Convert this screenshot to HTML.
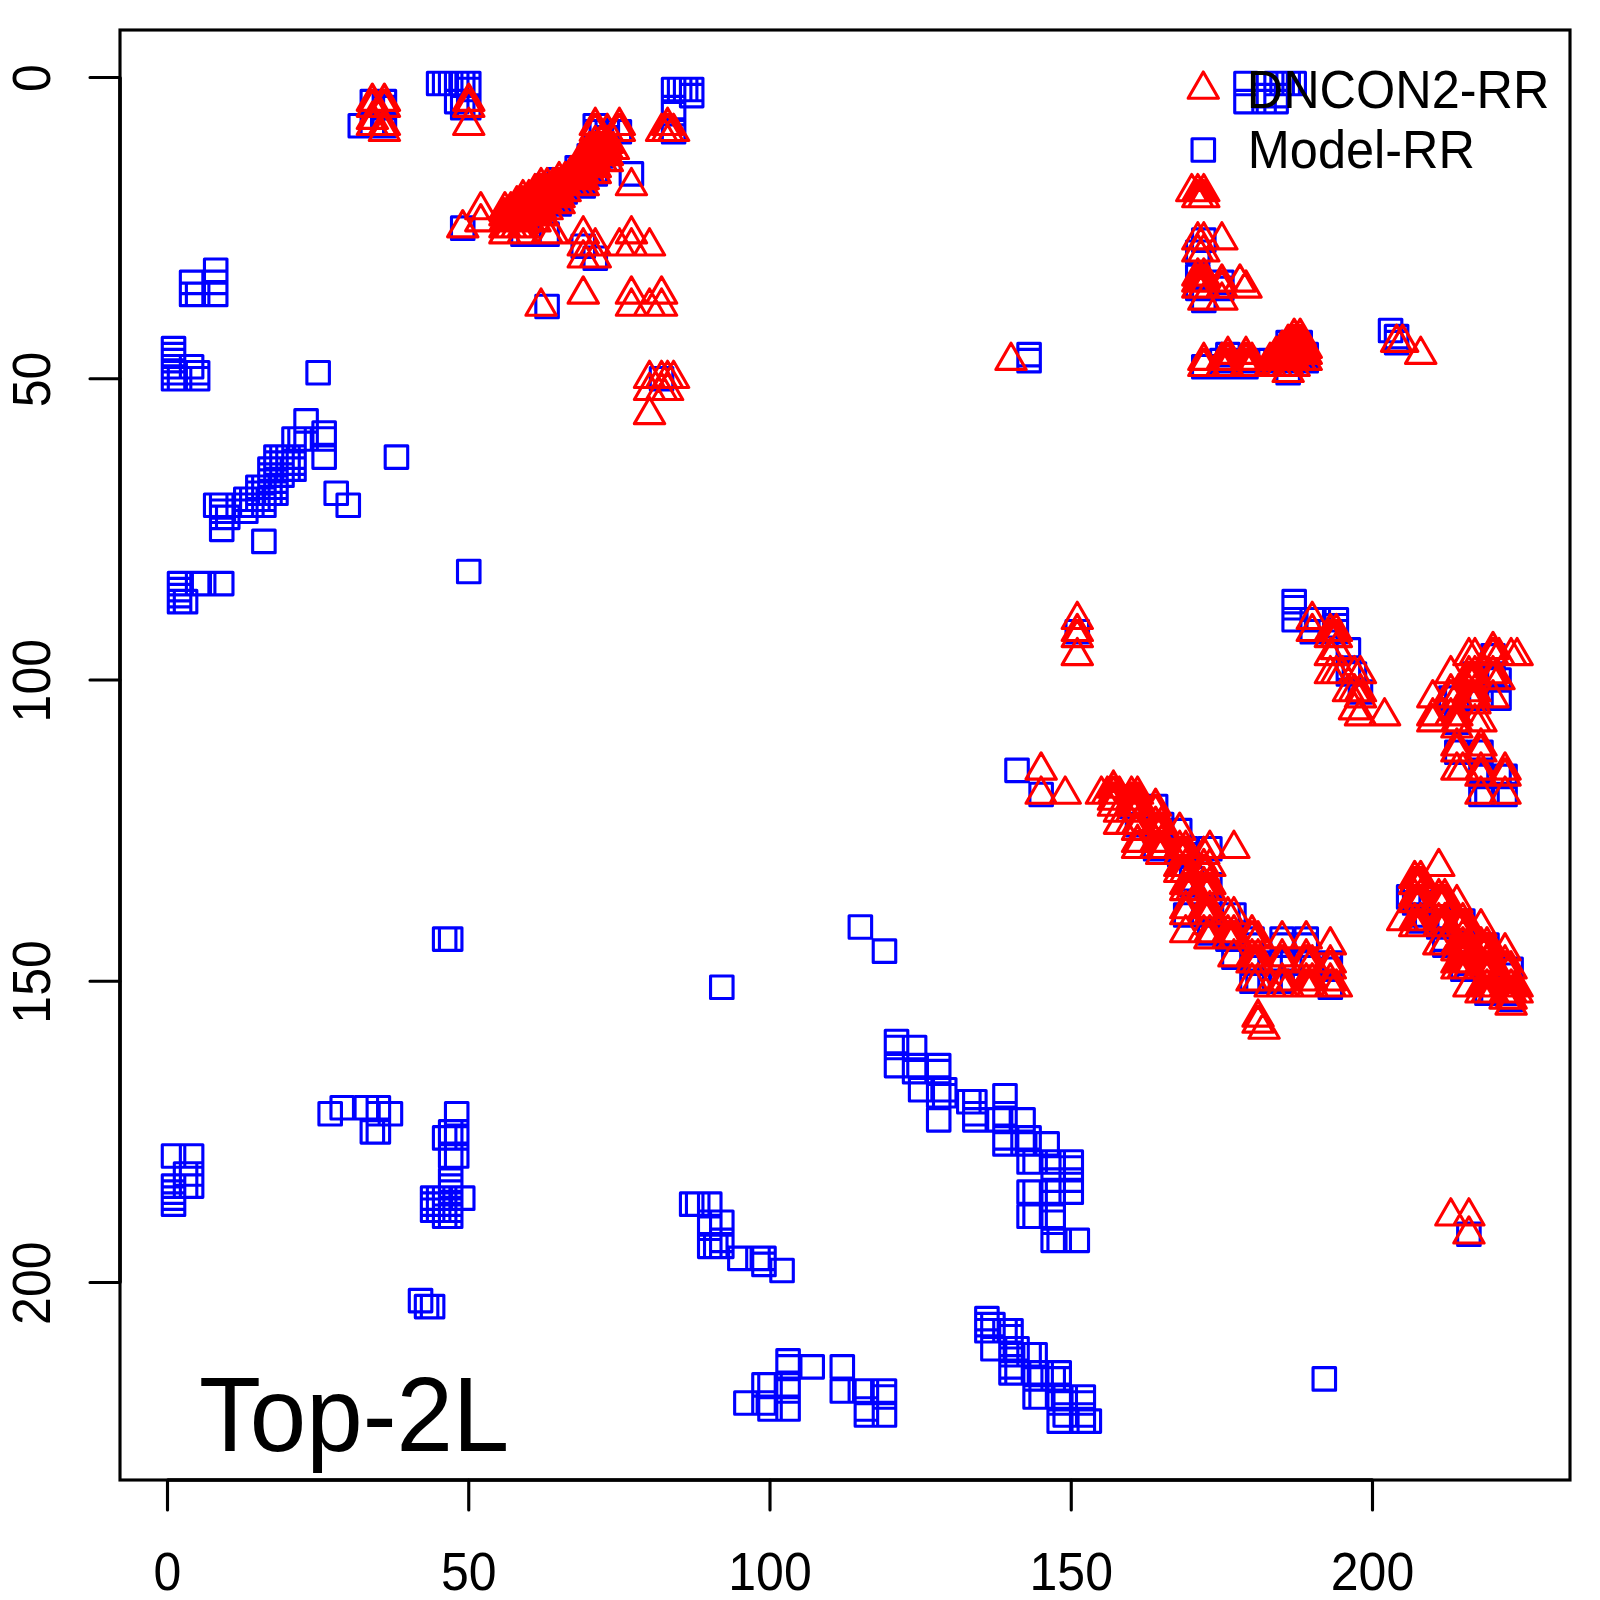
<!DOCTYPE html>
<html><head><meta charset="utf-8"><title>Top-2L</title>
<style>
html,body{margin:0;padding:0;background:#fff;}
svg{display:block}
text{font-family:"Liberation Sans",sans-serif;font-size:50px;fill:#000}
</style></head><body>
<svg width="1600" height="1600" viewBox="0 0 1600 1600">
<rect width="1600" height="1600" fill="#fff"/>
<path d="M162.28 337.38h22.5v22.5h-22.5zM162.28 343.4h22.5v22.5h-22.5zM162.28 349.43h22.5v22.5h-22.5zM162.28 355.45h22.5v22.5h-22.5zM162.28 361.48h22.5v22.5h-22.5zM162.28 367.5h22.5v22.5h-22.5zM162.28 1144.73h22.5v22.5h-22.5zM162.28 1174.85h22.5v22.5h-22.5zM162.28 1180.88h22.5v22.5h-22.5zM162.28 1186.9h22.5v22.5h-22.5zM162.28 1192.92h22.5v22.5h-22.5zM168.3 367.5h22.5v22.5h-22.5zM168.3 572.35h22.5v22.5h-22.5zM168.3 578.38h22.5v22.5h-22.5zM168.3 584.4h22.5v22.5h-22.5zM168.3 590.43h22.5v22.5h-22.5zM174.32 590.43h22.5v22.5h-22.5zM174.32 1162.8h22.5v22.5h-22.5zM174.32 1174.85h22.5v22.5h-22.5zM180.35 271.1h22.5v22.5h-22.5zM180.35 283.15h22.5v22.5h-22.5zM180.35 355.45h22.5v22.5h-22.5zM180.35 1144.73h22.5v22.5h-22.5zM180.35 1162.8h22.5v22.5h-22.5zM180.35 1174.85h22.5v22.5h-22.5zM186.38 283.15h22.5v22.5h-22.5zM186.38 361.48h22.5v22.5h-22.5zM186.38 367.5h22.5v22.5h-22.5zM186.38 572.35h22.5v22.5h-22.5zM192.4 572.35h22.5v22.5h-22.5zM204.45 259.05h22.5v22.5h-22.5zM204.45 271.1h22.5v22.5h-22.5zM204.45 283.15h22.5v22.5h-22.5zM204.45 494.03h22.5v22.5h-22.5zM210.47 494.03h22.5v22.5h-22.5zM210.47 500.05h22.5v22.5h-22.5zM210.47 506.08h22.5v22.5h-22.5zM210.47 518.12h22.5v22.5h-22.5zM210.47 572.35h22.5v22.5h-22.5zM216.5 506.08h22.5v22.5h-22.5zM234.57 488h22.5v22.5h-22.5zM234.57 494.03h22.5v22.5h-22.5zM234.57 500.05h22.5v22.5h-22.5zM240.6 488h22.5v22.5h-22.5zM240.6 494.03h22.5v22.5h-22.5zM246.62 475.95h22.5v22.5h-22.5zM246.62 481.98h22.5v22.5h-22.5zM246.62 488h22.5v22.5h-22.5zM252.65 475.95h22.5v22.5h-22.5zM252.65 481.98h22.5v22.5h-22.5zM252.65 488h22.5v22.5h-22.5zM252.65 494.03h22.5v22.5h-22.5zM252.65 530.17h22.5v22.5h-22.5zM258.68 457.88h22.5v22.5h-22.5zM258.68 463.9h22.5v22.5h-22.5zM258.68 469.93h22.5v22.5h-22.5zM258.68 475.95h22.5v22.5h-22.5zM258.68 481.98h22.5v22.5h-22.5zM264.7 445.83h22.5v22.5h-22.5zM264.7 451.85h22.5v22.5h-22.5zM264.7 457.88h22.5v22.5h-22.5zM264.7 463.9h22.5v22.5h-22.5zM264.7 469.93h22.5v22.5h-22.5zM264.7 475.95h22.5v22.5h-22.5zM264.7 481.98h22.5v22.5h-22.5zM270.73 445.83h22.5v22.5h-22.5zM270.73 451.85h22.5v22.5h-22.5zM270.73 457.88h22.5v22.5h-22.5zM270.73 463.9h22.5v22.5h-22.5zM276.75 445.83h22.5v22.5h-22.5zM276.75 451.85h22.5v22.5h-22.5zM276.75 457.88h22.5v22.5h-22.5zM282.77 427.75h22.5v22.5h-22.5zM282.77 445.83h22.5v22.5h-22.5zM282.77 451.85h22.5v22.5h-22.5zM282.77 457.88h22.5v22.5h-22.5zM288.8 427.75h22.5v22.5h-22.5zM294.83 409.68h22.5v22.5h-22.5zM294.83 427.75h22.5v22.5h-22.5zM306.88 361.48h22.5v22.5h-22.5zM312.9 421.73h22.5v22.5h-22.5zM312.9 427.75h22.5v22.5h-22.5zM312.9 445.83h22.5v22.5h-22.5zM318.93 1102.55h22.5v22.5h-22.5zM324.95 481.98h22.5v22.5h-22.5zM330.98 1096.53h22.5v22.5h-22.5zM337 494.03h22.5v22.5h-22.5zM349.05 114.45h22.5v22.5h-22.5zM355.08 1096.53h22.5v22.5h-22.5zM361.1 90.35h22.5v22.5h-22.5zM361.1 114.45h22.5v22.5h-22.5zM361.1 1120.62h22.5v22.5h-22.5zM367.12 1096.53h22.5v22.5h-22.5zM367.12 1102.55h22.5v22.5h-22.5zM367.12 1120.62h22.5v22.5h-22.5zM373.15 90.35h22.5v22.5h-22.5zM373.15 96.38h22.5v22.5h-22.5zM373.15 114.45h22.5v22.5h-22.5zM379.18 1102.55h22.5v22.5h-22.5zM385.2 445.83h22.5v22.5h-22.5zM409.3 1289.33h22.5v22.5h-22.5zM415.32 1295.35h22.5v22.5h-22.5zM421.35 1186.9h22.5v22.5h-22.5zM421.35 1192.92h22.5v22.5h-22.5zM421.35 1198.95h22.5v22.5h-22.5zM421.35 1295.35h22.5v22.5h-22.5zM427.38 72.28h22.5v22.5h-22.5zM427.38 1186.9h22.5v22.5h-22.5zM427.38 1192.92h22.5v22.5h-22.5zM427.38 1198.95h22.5v22.5h-22.5zM433.4 72.28h22.5v22.5h-22.5zM433.4 927.83h22.5v22.5h-22.5zM433.4 1126.65h22.5v22.5h-22.5zM433.4 1186.9h22.5v22.5h-22.5zM433.4 1192.92h22.5v22.5h-22.5zM433.4 1198.95h22.5v22.5h-22.5zM433.4 1204.98h22.5v22.5h-22.5zM439.43 72.28h22.5v22.5h-22.5zM439.43 927.83h22.5v22.5h-22.5zM439.43 1120.62h22.5v22.5h-22.5zM439.43 1126.65h22.5v22.5h-22.5zM439.43 1144.73h22.5v22.5h-22.5zM439.43 1168.83h22.5v22.5h-22.5zM439.43 1174.85h22.5v22.5h-22.5zM439.43 1180.88h22.5v22.5h-22.5zM439.43 1186.9h22.5v22.5h-22.5zM439.43 1192.92h22.5v22.5h-22.5zM439.43 1198.95h22.5v22.5h-22.5zM439.43 1204.98h22.5v22.5h-22.5zM445.45 72.28h22.5v22.5h-22.5zM445.45 90.35h22.5v22.5h-22.5zM445.45 1102.55h22.5v22.5h-22.5zM445.45 1120.62h22.5v22.5h-22.5zM445.45 1126.65h22.5v22.5h-22.5zM445.45 1144.73h22.5v22.5h-22.5zM451.48 72.28h22.5v22.5h-22.5zM451.48 96.38h22.5v22.5h-22.5zM451.48 216.88h22.5v22.5h-22.5zM451.48 1186.9h22.5v22.5h-22.5zM457.5 72.28h22.5v22.5h-22.5zM457.5 78.3h22.5v22.5h-22.5zM457.5 96.38h22.5v22.5h-22.5zM457.5 560.3h22.5v22.5h-22.5zM499.68 204.83h22.5v22.5h-22.5zM511.73 222.9h22.5v22.5h-22.5zM517.75 192.78h22.5v22.5h-22.5zM517.75 198.8h22.5v22.5h-22.5zM517.75 204.83h22.5v22.5h-22.5zM517.75 222.9h22.5v22.5h-22.5zM535.83 174.7h22.5v22.5h-22.5zM535.83 180.73h22.5v22.5h-22.5zM535.83 186.75h22.5v22.5h-22.5zM535.83 192.78h22.5v22.5h-22.5zM535.83 222.9h22.5v22.5h-22.5zM535.83 295.2h22.5v22.5h-22.5zM541.85 174.7h22.5v22.5h-22.5zM541.85 180.73h22.5v22.5h-22.5zM541.85 186.75h22.5v22.5h-22.5zM541.85 192.78h22.5v22.5h-22.5zM547.88 168.68h22.5v22.5h-22.5zM547.88 174.7h22.5v22.5h-22.5zM547.88 180.73h22.5v22.5h-22.5zM547.88 186.75h22.5v22.5h-22.5zM547.88 192.78h22.5v22.5h-22.5zM553.9 168.68h22.5v22.5h-22.5zM553.9 174.7h22.5v22.5h-22.5zM553.9 180.73h22.5v22.5h-22.5zM559.92 168.68h22.5v22.5h-22.5zM559.92 174.7h22.5v22.5h-22.5zM565.95 156.62h22.5v22.5h-22.5zM565.95 162.65h22.5v22.5h-22.5zM565.95 168.68h22.5v22.5h-22.5zM565.95 174.7h22.5v22.5h-22.5zM571.98 156.62h22.5v22.5h-22.5zM571.98 162.65h22.5v22.5h-22.5zM571.98 168.68h22.5v22.5h-22.5zM571.98 174.7h22.5v22.5h-22.5zM571.98 234.95h22.5v22.5h-22.5zM578 144.57h22.5v22.5h-22.5zM578 150.6h22.5v22.5h-22.5zM578 156.62h22.5v22.5h-22.5zM578 162.65h22.5v22.5h-22.5zM584.03 114.45h22.5v22.5h-22.5zM584.03 120.47h22.5v22.5h-22.5zM584.03 144.57h22.5v22.5h-22.5zM584.03 150.6h22.5v22.5h-22.5zM584.03 162.65h22.5v22.5h-22.5zM584.03 247h22.5v22.5h-22.5zM590.05 120.47h22.5v22.5h-22.5zM590.05 144.57h22.5v22.5h-22.5zM596.08 120.47h22.5v22.5h-22.5zM596.08 126.5h22.5v22.5h-22.5zM608.12 120.47h22.5v22.5h-22.5zM620.17 162.65h22.5v22.5h-22.5zM650.3 367.5h22.5v22.5h-22.5zM662.35 78.3h22.5v22.5h-22.5zM662.35 96.38h22.5v22.5h-22.5zM662.35 102.4h22.5v22.5h-22.5zM662.35 120.47h22.5v22.5h-22.5zM668.38 78.3h22.5v22.5h-22.5zM674.4 78.3h22.5v22.5h-22.5zM680.43 78.3h22.5v22.5h-22.5zM680.43 84.33h22.5v22.5h-22.5zM680.43 1192.92h22.5v22.5h-22.5zM686.45 1192.92h22.5v22.5h-22.5zM698.5 1192.92h22.5v22.5h-22.5zM698.5 1211h22.5v22.5h-22.5zM698.5 1217.03h22.5v22.5h-22.5zM698.5 1235.1h22.5v22.5h-22.5zM704.52 1235.1h22.5v22.5h-22.5zM710.55 976.03h22.5v22.5h-22.5zM710.55 1211h22.5v22.5h-22.5zM710.55 1229.08h22.5v22.5h-22.5zM710.55 1235.1h22.5v22.5h-22.5zM728.62 1247.15h22.5v22.5h-22.5zM734.65 1391.75h22.5v22.5h-22.5zM746.7 1247.15h22.5v22.5h-22.5zM752.73 1247.15h22.5v22.5h-22.5zM752.73 1253.18h22.5v22.5h-22.5zM752.73 1373.68h22.5v22.5h-22.5zM752.73 1391.75h22.5v22.5h-22.5zM758.75 1373.68h22.5v22.5h-22.5zM758.75 1397.78h22.5v22.5h-22.5zM770.8 1259.2h22.5v22.5h-22.5zM776.83 1349.58h22.5v22.5h-22.5zM776.83 1355.6h22.5v22.5h-22.5zM776.83 1373.68h22.5v22.5h-22.5zM776.83 1379.7h22.5v22.5h-22.5zM776.83 1397.78h22.5v22.5h-22.5zM800.93 1355.6h22.5v22.5h-22.5zM831.05 1355.6h22.5v22.5h-22.5zM831.05 1379.7h22.5v22.5h-22.5zM849.12 915.78h22.5v22.5h-22.5zM849.12 1379.7h22.5v22.5h-22.5zM855.15 1379.7h22.5v22.5h-22.5zM855.15 1397.78h22.5v22.5h-22.5zM855.15 1403.8h22.5v22.5h-22.5zM873.23 939.88h22.5v22.5h-22.5zM873.23 1379.7h22.5v22.5h-22.5zM873.23 1385.73h22.5v22.5h-22.5zM873.23 1403.8h22.5v22.5h-22.5zM885.28 1030.25h22.5v22.5h-22.5zM885.28 1036.28h22.5v22.5h-22.5zM885.28 1054.35h22.5v22.5h-22.5zM903.35 1036.28h22.5v22.5h-22.5zM903.35 1054.35h22.5v22.5h-22.5zM903.35 1060.38h22.5v22.5h-22.5zM909.38 1078.45h22.5v22.5h-22.5zM927.45 1054.35h22.5v22.5h-22.5zM927.45 1060.38h22.5v22.5h-22.5zM927.45 1078.45h22.5v22.5h-22.5zM927.45 1084.47h22.5v22.5h-22.5zM927.45 1108.58h22.5v22.5h-22.5zM933.48 1078.45h22.5v22.5h-22.5zM933.48 1084.47h22.5v22.5h-22.5zM957.58 1090.5h22.5v22.5h-22.5zM963.6 1090.5h22.5v22.5h-22.5zM963.6 1102.55h22.5v22.5h-22.5zM963.6 1108.58h22.5v22.5h-22.5zM975.65 1307.4h22.5v22.5h-22.5zM975.65 1313.43h22.5v22.5h-22.5zM975.65 1319.45h22.5v22.5h-22.5zM981.68 1313.43h22.5v22.5h-22.5zM981.68 1337.53h22.5v22.5h-22.5zM987.7 1108.58h22.5v22.5h-22.5zM993.73 1084.47h22.5v22.5h-22.5zM993.73 1102.55h22.5v22.5h-22.5zM993.73 1108.58h22.5v22.5h-22.5zM993.73 1126.65h22.5v22.5h-22.5zM993.73 1132.67h22.5v22.5h-22.5zM993.73 1319.45h22.5v22.5h-22.5zM999.75 1319.45h22.5v22.5h-22.5zM999.75 1325.48h22.5v22.5h-22.5zM999.75 1337.53h22.5v22.5h-22.5zM999.75 1343.55h22.5v22.5h-22.5zM999.75 1355.6h22.5v22.5h-22.5zM999.75 1361.62h22.5v22.5h-22.5zM1005.78 759.12h22.5v22.5h-22.5zM1005.78 1337.53h22.5v22.5h-22.5zM1005.78 1343.55h22.5v22.5h-22.5zM1005.78 1361.62h22.5v22.5h-22.5zM1011.8 1108.58h22.5v22.5h-22.5zM1011.8 1126.65h22.5v22.5h-22.5zM1011.8 1132.67h22.5v22.5h-22.5zM1017.83 343.4h22.5v22.5h-22.5zM1017.83 349.43h22.5v22.5h-22.5zM1017.83 1126.65h22.5v22.5h-22.5zM1017.83 1150.75h22.5v22.5h-22.5zM1017.83 1180.88h22.5v22.5h-22.5zM1017.83 1204.98h22.5v22.5h-22.5zM1017.83 1343.55h22.5v22.5h-22.5zM1023.85 1150.75h22.5v22.5h-22.5zM1023.85 1180.88h22.5v22.5h-22.5zM1023.85 1204.98h22.5v22.5h-22.5zM1023.85 1343.55h22.5v22.5h-22.5zM1023.85 1361.62h22.5v22.5h-22.5zM1023.85 1367.65h22.5v22.5h-22.5zM1023.85 1385.73h22.5v22.5h-22.5zM1029.88 783.23h22.5v22.5h-22.5zM1029.88 1361.62h22.5v22.5h-22.5zM1029.88 1367.65h22.5v22.5h-22.5zM1029.88 1385.73h22.5v22.5h-22.5zM1035.9 1132.67h22.5v22.5h-22.5zM1041.93 1150.75h22.5v22.5h-22.5zM1041.93 1156.78h22.5v22.5h-22.5zM1041.93 1168.83h22.5v22.5h-22.5zM1041.93 1180.88h22.5v22.5h-22.5zM1041.93 1204.98h22.5v22.5h-22.5zM1041.93 1211h22.5v22.5h-22.5zM1041.93 1229.08h22.5v22.5h-22.5zM1041.93 1367.65h22.5v22.5h-22.5zM1047.95 1229.08h22.5v22.5h-22.5zM1047.95 1361.62h22.5v22.5h-22.5zM1047.95 1367.65h22.5v22.5h-22.5zM1047.95 1385.73h22.5v22.5h-22.5zM1047.95 1391.75h22.5v22.5h-22.5zM1047.95 1409.83h22.5v22.5h-22.5zM1053.97 1385.73h22.5v22.5h-22.5zM1053.97 1403.8h22.5v22.5h-22.5zM1060 1150.75h22.5v22.5h-22.5zM1060 1156.78h22.5v22.5h-22.5zM1060 1168.83h22.5v22.5h-22.5zM1060 1180.88h22.5v22.5h-22.5zM1066.03 620.55h22.5v22.5h-22.5zM1066.03 1229.08h22.5v22.5h-22.5zM1072.05 1385.73h22.5v22.5h-22.5zM1072.05 1391.75h22.5v22.5h-22.5zM1072.05 1403.8h22.5v22.5h-22.5zM1072.05 1409.83h22.5v22.5h-22.5zM1078.08 1409.83h22.5v22.5h-22.5zM1120.25 795.28h22.5v22.5h-22.5zM1126.28 795.28h22.5v22.5h-22.5zM1126.28 813.35h22.5v22.5h-22.5zM1144.35 795.28h22.5v22.5h-22.5zM1144.35 813.35h22.5v22.5h-22.5zM1144.35 837.45h22.5v22.5h-22.5zM1150.38 813.35h22.5v22.5h-22.5zM1150.38 837.45h22.5v22.5h-22.5zM1168.45 819.38h22.5v22.5h-22.5zM1168.45 837.45h22.5v22.5h-22.5zM1168.45 843.48h22.5v22.5h-22.5zM1174.47 837.45h22.5v22.5h-22.5zM1174.47 843.48h22.5v22.5h-22.5zM1174.47 903.73h22.5v22.5h-22.5zM1180.5 867.58h22.5v22.5h-22.5zM1180.5 873.6h22.5v22.5h-22.5zM1186.53 240.98h22.5v22.5h-22.5zM1186.53 265.08h22.5v22.5h-22.5zM1186.53 277.12h22.5v22.5h-22.5zM1192.55 228.93h22.5v22.5h-22.5zM1192.55 277.12h22.5v22.5h-22.5zM1192.55 289.18h22.5v22.5h-22.5zM1192.55 355.45h22.5v22.5h-22.5zM1192.55 873.6h22.5v22.5h-22.5zM1192.55 903.73h22.5v22.5h-22.5zM1198.58 837.45h22.5v22.5h-22.5zM1198.58 873.6h22.5v22.5h-22.5zM1198.58 897.7h22.5v22.5h-22.5zM1198.58 903.73h22.5v22.5h-22.5zM1198.58 921.8h22.5v22.5h-22.5zM1210.62 271.1h22.5v22.5h-22.5zM1210.62 277.12h22.5v22.5h-22.5zM1210.62 349.43h22.5v22.5h-22.5zM1210.62 355.45h22.5v22.5h-22.5zM1216.65 343.4h22.5v22.5h-22.5zM1216.65 349.43h22.5v22.5h-22.5zM1216.65 355.45h22.5v22.5h-22.5zM1216.65 903.73h22.5v22.5h-22.5zM1216.65 921.8h22.5v22.5h-22.5zM1216.65 927.83h22.5v22.5h-22.5zM1222.67 903.73h22.5v22.5h-22.5zM1222.67 921.8h22.5v22.5h-22.5zM1222.67 945.9h22.5v22.5h-22.5zM1234.73 72.28h22.5v22.5h-22.5zM1234.73 90.35h22.5v22.5h-22.5zM1234.73 349.43h22.5v22.5h-22.5zM1234.73 355.45h22.5v22.5h-22.5zM1240.75 927.83h22.5v22.5h-22.5zM1240.75 933.85h22.5v22.5h-22.5zM1240.75 951.93h22.5v22.5h-22.5zM1240.75 970h22.5v22.5h-22.5zM1246.78 951.93h22.5v22.5h-22.5zM1246.78 970h22.5v22.5h-22.5zM1252.8 84.33h22.5v22.5h-22.5zM1252.8 90.35h22.5v22.5h-22.5zM1258.83 349.43h22.5v22.5h-22.5zM1258.83 951.93h22.5v22.5h-22.5zM1258.83 970h22.5v22.5h-22.5zM1264.85 72.28h22.5v22.5h-22.5zM1264.85 84.33h22.5v22.5h-22.5zM1264.85 90.35h22.5v22.5h-22.5zM1264.85 349.43h22.5v22.5h-22.5zM1270.88 72.28h22.5v22.5h-22.5zM1270.88 349.43h22.5v22.5h-22.5zM1270.88 927.83h22.5v22.5h-22.5zM1270.88 933.85h22.5v22.5h-22.5zM1270.88 951.93h22.5v22.5h-22.5zM1270.88 970h22.5v22.5h-22.5zM1276.9 72.28h22.5v22.5h-22.5zM1276.9 331.35h22.5v22.5h-22.5zM1276.9 337.38h22.5v22.5h-22.5zM1276.9 343.4h22.5v22.5h-22.5zM1276.9 349.43h22.5v22.5h-22.5zM1276.9 361.48h22.5v22.5h-22.5zM1282.92 72.28h22.5v22.5h-22.5zM1282.92 331.35h22.5v22.5h-22.5zM1282.92 337.38h22.5v22.5h-22.5zM1282.92 343.4h22.5v22.5h-22.5zM1282.92 349.43h22.5v22.5h-22.5zM1282.92 590.43h22.5v22.5h-22.5zM1282.92 596.45h22.5v22.5h-22.5zM1282.92 608.5h22.5v22.5h-22.5zM1288.95 331.35h22.5v22.5h-22.5zM1288.95 337.38h22.5v22.5h-22.5zM1288.95 343.4h22.5v22.5h-22.5zM1288.95 349.43h22.5v22.5h-22.5zM1294.98 343.4h22.5v22.5h-22.5zM1294.98 349.43h22.5v22.5h-22.5zM1294.98 927.83h22.5v22.5h-22.5zM1294.98 933.85h22.5v22.5h-22.5zM1294.98 951.93h22.5v22.5h-22.5zM1301 608.5h22.5v22.5h-22.5zM1301 620.55h22.5v22.5h-22.5zM1301 951.93h22.5v22.5h-22.5zM1307.03 608.5h22.5v22.5h-22.5zM1313.05 1367.65h22.5v22.5h-22.5zM1319.08 620.55h22.5v22.5h-22.5zM1319.08 951.93h22.5v22.5h-22.5zM1319.08 957.95h22.5v22.5h-22.5zM1319.08 976.03h22.5v22.5h-22.5zM1325.1 608.5h22.5v22.5h-22.5zM1325.1 614.52h22.5v22.5h-22.5zM1325.1 620.55h22.5v22.5h-22.5zM1337.15 638.62h22.5v22.5h-22.5zM1337.15 656.7h22.5v22.5h-22.5zM1337.15 662.73h22.5v22.5h-22.5zM1343.18 662.73h22.5v22.5h-22.5zM1349.2 680.8h22.5v22.5h-22.5zM1379.33 319.3h22.5v22.5h-22.5zM1385.35 325.32h22.5v22.5h-22.5zM1385.35 331.35h22.5v22.5h-22.5zM1397.4 885.65h22.5v22.5h-22.5zM1403.43 885.65h22.5v22.5h-22.5zM1403.43 891.68h22.5v22.5h-22.5zM1409.45 885.65h22.5v22.5h-22.5zM1409.45 903.73h22.5v22.5h-22.5zM1409.45 909.75h22.5v22.5h-22.5zM1415.48 909.75h22.5v22.5h-22.5zM1427.53 891.68h22.5v22.5h-22.5zM1427.53 909.75h22.5v22.5h-22.5zM1427.53 915.78h22.5v22.5h-22.5zM1433.55 909.75h22.5v22.5h-22.5zM1433.55 915.78h22.5v22.5h-22.5zM1433.55 927.83h22.5v22.5h-22.5zM1433.55 933.85h22.5v22.5h-22.5zM1439.58 686.83h22.5v22.5h-22.5zM1445.6 686.83h22.5v22.5h-22.5zM1445.6 710.93h22.5v22.5h-22.5zM1445.6 741.05h22.5v22.5h-22.5zM1445.6 909.75h22.5v22.5h-22.5zM1451.62 909.75h22.5v22.5h-22.5zM1451.62 915.78h22.5v22.5h-22.5zM1451.62 933.85h22.5v22.5h-22.5zM1451.62 939.88h22.5v22.5h-22.5zM1451.62 957.95h22.5v22.5h-22.5zM1457.65 933.85h22.5v22.5h-22.5zM1457.65 939.88h22.5v22.5h-22.5zM1457.65 951.93h22.5v22.5h-22.5zM1457.65 957.95h22.5v22.5h-22.5zM1457.65 1223.05h22.5v22.5h-22.5zM1463.68 662.73h22.5v22.5h-22.5zM1463.68 668.75h22.5v22.5h-22.5zM1463.68 686.83h22.5v22.5h-22.5zM1469.7 686.83h22.5v22.5h-22.5zM1469.7 741.05h22.5v22.5h-22.5zM1469.7 759.12h22.5v22.5h-22.5zM1469.7 765.15h22.5v22.5h-22.5zM1469.7 783.23h22.5v22.5h-22.5zM1475.73 783.23h22.5v22.5h-22.5zM1475.73 933.85h22.5v22.5h-22.5zM1475.73 939.88h22.5v22.5h-22.5zM1475.73 957.95h22.5v22.5h-22.5zM1475.73 963.98h22.5v22.5h-22.5zM1475.73 982.05h22.5v22.5h-22.5zM1481.75 644.65h22.5v22.5h-22.5zM1481.75 662.73h22.5v22.5h-22.5zM1481.75 957.95h22.5v22.5h-22.5zM1481.75 982.05h22.5v22.5h-22.5zM1487.78 668.75h22.5v22.5h-22.5zM1487.78 686.83h22.5v22.5h-22.5zM1487.78 765.15h22.5v22.5h-22.5zM1493.8 765.15h22.5v22.5h-22.5zM1493.8 783.23h22.5v22.5h-22.5zM1493.8 963.98h22.5v22.5h-22.5zM1493.8 982.05h22.5v22.5h-22.5zM1499.83 957.95h22.5v22.5h-22.5zM1499.83 982.05h22.5v22.5h-22.5zM1499.83 988.08h22.5v22.5h-22.5z" fill="none" stroke="#00f" stroke-width="3.125" stroke-linejoin="round"/>
<path d="M372.35 84.1l15.15 26.24h-30.3zM372.35 90.13l15.15 26.24h-30.3zM372.35 102.18l15.15 26.24h-30.3zM372.35 108.2l15.15 26.24h-30.3zM384.4 84.1l15.15 26.24h-30.3zM384.4 90.13l15.15 26.24h-30.3zM384.4 108.2l15.15 26.24h-30.3zM384.4 114.23l15.15 26.24h-30.3zM462.73 210.63l15.15 26.24h-30.3zM468.75 84.1l15.15 26.24h-30.3zM468.75 90.13l15.15 26.24h-30.3zM468.75 108.2l15.15 26.24h-30.3zM480.8 192.56l15.15 26.24h-30.3zM480.8 204.61l15.15 26.24h-30.3zM504.9 192.56l15.15 26.24h-30.3zM504.9 198.58l15.15 26.24h-30.3zM504.9 204.61l15.15 26.24h-30.3zM504.9 210.63l15.15 26.24h-30.3zM504.9 216.66l15.15 26.24h-30.3zM510.93 192.56l15.15 26.24h-30.3zM510.93 198.58l15.15 26.24h-30.3zM510.93 204.61l15.15 26.24h-30.3zM510.93 210.63l15.15 26.24h-30.3zM516.95 186.53l15.15 26.24h-30.3zM516.95 192.56l15.15 26.24h-30.3zM516.95 198.58l15.15 26.24h-30.3zM516.95 204.61l15.15 26.24h-30.3zM516.95 210.63l15.15 26.24h-30.3zM522.98 180.5l15.15 26.24h-30.3zM522.98 186.53l15.15 26.24h-30.3zM522.98 192.56l15.15 26.24h-30.3zM522.98 198.58l15.15 26.24h-30.3zM522.98 204.61l15.15 26.24h-30.3zM522.98 210.63l15.15 26.24h-30.3zM522.98 216.66l15.15 26.24h-30.3zM529 180.5l15.15 26.24h-30.3zM529 186.53l15.15 26.24h-30.3zM529 192.56l15.15 26.24h-30.3zM529 198.58l15.15 26.24h-30.3zM529 204.61l15.15 26.24h-30.3zM535.03 174.48l15.15 26.24h-30.3zM535.03 180.5l15.15 26.24h-30.3zM535.03 186.53l15.15 26.24h-30.3zM535.03 192.56l15.15 26.24h-30.3zM535.03 198.58l15.15 26.24h-30.3zM535.03 204.61l15.15 26.24h-30.3zM541.05 168.45l15.15 26.24h-30.3zM541.05 174.48l15.15 26.24h-30.3zM541.05 180.5l15.15 26.24h-30.3zM541.05 186.53l15.15 26.24h-30.3zM541.05 192.56l15.15 26.24h-30.3zM541.05 198.58l15.15 26.24h-30.3zM541.05 288.96l15.15 26.24h-30.3zM547.08 168.45l15.15 26.24h-30.3zM547.08 174.48l15.15 26.24h-30.3zM547.08 180.5l15.15 26.24h-30.3zM547.08 186.53l15.15 26.24h-30.3zM547.08 192.56l15.15 26.24h-30.3zM547.08 216.66l15.15 26.24h-30.3zM553.1 168.45l15.15 26.24h-30.3zM553.1 174.48l15.15 26.24h-30.3zM553.1 180.5l15.15 26.24h-30.3zM553.1 186.53l15.15 26.24h-30.3zM553.1 216.66l15.15 26.24h-30.3zM559.12 162.43l15.15 26.24h-30.3zM559.12 168.45l15.15 26.24h-30.3zM559.12 174.48l15.15 26.24h-30.3zM559.12 180.5l15.15 26.24h-30.3zM559.12 186.53l15.15 26.24h-30.3zM565.15 162.43l15.15 26.24h-30.3zM565.15 168.45l15.15 26.24h-30.3zM565.15 174.48l15.15 26.24h-30.3zM571.17 156.41l15.15 26.24h-30.3zM571.17 162.43l15.15 26.24h-30.3zM571.17 168.45l15.15 26.24h-30.3zM577.2 150.38l15.15 26.24h-30.3zM577.2 156.41l15.15 26.24h-30.3zM577.2 162.43l15.15 26.24h-30.3zM577.2 168.45l15.15 26.24h-30.3zM583.23 138.33l15.15 26.24h-30.3zM583.23 144.36l15.15 26.24h-30.3zM583.23 150.38l15.15 26.24h-30.3zM583.23 156.41l15.15 26.24h-30.3zM583.23 162.43l15.15 26.24h-30.3zM583.23 168.45l15.15 26.24h-30.3zM583.23 216.66l15.15 26.24h-30.3zM583.23 228.71l15.15 26.24h-30.3zM583.23 240.75l15.15 26.24h-30.3zM583.23 276.9l15.15 26.24h-30.3zM589.25 132.31l15.15 26.24h-30.3zM589.25 138.33l15.15 26.24h-30.3zM589.25 144.36l15.15 26.24h-30.3zM589.25 150.38l15.15 26.24h-30.3zM589.25 156.41l15.15 26.24h-30.3zM595.28 108.2l15.15 26.24h-30.3zM595.28 114.23l15.15 26.24h-30.3zM595.28 126.28l15.15 26.24h-30.3zM595.28 132.31l15.15 26.24h-30.3zM595.28 138.33l15.15 26.24h-30.3zM595.28 144.36l15.15 26.24h-30.3zM595.28 150.38l15.15 26.24h-30.3zM595.28 156.41l15.15 26.24h-30.3zM595.28 228.71l15.15 26.24h-30.3zM595.28 240.75l15.15 26.24h-30.3zM601.3 126.28l15.15 26.24h-30.3zM601.3 132.31l15.15 26.24h-30.3zM601.3 138.33l15.15 26.24h-30.3zM601.3 144.36l15.15 26.24h-30.3zM607.33 114.23l15.15 26.24h-30.3zM607.33 126.28l15.15 26.24h-30.3zM607.33 132.31l15.15 26.24h-30.3zM607.33 138.33l15.15 26.24h-30.3zM607.33 144.36l15.15 26.24h-30.3zM613.35 132.31l15.15 26.24h-30.3zM619.38 108.2l15.15 26.24h-30.3zM619.38 114.23l15.15 26.24h-30.3zM619.38 228.71l15.15 26.24h-30.3zM631.42 168.45l15.15 26.24h-30.3zM631.42 216.66l15.15 26.24h-30.3zM631.42 228.71l15.15 26.24h-30.3zM631.42 276.9l15.15 26.24h-30.3zM631.42 288.96l15.15 26.24h-30.3zM649.5 228.71l15.15 26.24h-30.3zM649.5 288.96l15.15 26.24h-30.3zM649.5 361.25l15.15 26.24h-30.3zM649.5 373.31l15.15 26.24h-30.3zM649.5 397.41l15.15 26.24h-30.3zM661.55 114.23l15.15 26.24h-30.3zM661.55 276.9l15.15 26.24h-30.3zM661.55 288.96l15.15 26.24h-30.3zM661.55 361.25l15.15 26.24h-30.3zM661.55 373.31l15.15 26.24h-30.3zM667.58 108.2l15.15 26.24h-30.3zM667.58 114.23l15.15 26.24h-30.3zM667.58 361.25l15.15 26.24h-30.3zM667.58 373.31l15.15 26.24h-30.3zM673.6 114.23l15.15 26.24h-30.3zM673.6 361.25l15.15 26.24h-30.3zM1011 343.18l15.15 26.24h-30.3zM1041.12 752.88l15.15 26.24h-30.3zM1041.12 776.98l15.15 26.24h-30.3zM1065.22 776.98l15.15 26.24h-30.3zM1077.28 602.25l15.15 26.24h-30.3zM1077.28 614.31l15.15 26.24h-30.3zM1077.28 620.33l15.15 26.24h-30.3zM1077.28 638.41l15.15 26.24h-30.3zM1101.38 776.98l15.15 26.24h-30.3zM1107.4 776.98l15.15 26.24h-30.3zM1113.43 770.96l15.15 26.24h-30.3zM1113.43 776.98l15.15 26.24h-30.3zM1113.43 783l15.15 26.24h-30.3zM1113.43 789.03l15.15 26.24h-30.3zM1119.45 776.98l15.15 26.24h-30.3zM1119.45 795.06l15.15 26.24h-30.3zM1119.45 807.11l15.15 26.24h-30.3zM1131.5 776.98l15.15 26.24h-30.3zM1131.5 783l15.15 26.24h-30.3zM1131.5 789.03l15.15 26.24h-30.3zM1131.5 795.06l15.15 26.24h-30.3zM1131.5 807.11l15.15 26.24h-30.3zM1137.53 776.98l15.15 26.24h-30.3zM1137.53 783l15.15 26.24h-30.3zM1137.53 789.03l15.15 26.24h-30.3zM1137.53 795.06l15.15 26.24h-30.3zM1137.53 807.11l15.15 26.24h-30.3zM1137.53 813.13l15.15 26.24h-30.3zM1137.53 825.18l15.15 26.24h-30.3zM1137.53 831.21l15.15 26.24h-30.3zM1155.6 789.03l15.15 26.24h-30.3zM1155.6 795.06l15.15 26.24h-30.3zM1155.6 807.11l15.15 26.24h-30.3zM1155.6 813.13l15.15 26.24h-30.3zM1155.6 825.18l15.15 26.24h-30.3zM1155.6 831.21l15.15 26.24h-30.3zM1161.62 807.11l15.15 26.24h-30.3zM1161.62 813.13l15.15 26.24h-30.3zM1161.62 825.18l15.15 26.24h-30.3zM1161.62 831.21l15.15 26.24h-30.3zM1161.62 837.23l15.15 26.24h-30.3zM1179.7 813.13l15.15 26.24h-30.3zM1179.7 831.21l15.15 26.24h-30.3zM1179.7 837.23l15.15 26.24h-30.3zM1179.7 849.28l15.15 26.24h-30.3zM1179.7 855.31l15.15 26.24h-30.3zM1185.72 831.21l15.15 26.24h-30.3zM1185.72 837.23l15.15 26.24h-30.3zM1185.72 849.28l15.15 26.24h-30.3zM1185.72 855.31l15.15 26.24h-30.3zM1185.72 867.36l15.15 26.24h-30.3zM1185.72 873.38l15.15 26.24h-30.3zM1185.72 891.46l15.15 26.24h-30.3zM1185.72 897.48l15.15 26.24h-30.3zM1185.72 915.56l15.15 26.24h-30.3zM1191.75 174.48l15.15 26.24h-30.3zM1191.75 867.36l15.15 26.24h-30.3zM1191.75 873.38l15.15 26.24h-30.3zM1197.78 174.48l15.15 26.24h-30.3zM1197.78 180.5l15.15 26.24h-30.3zM1197.78 222.68l15.15 26.24h-30.3zM1197.78 234.73l15.15 26.24h-30.3zM1197.78 258.83l15.15 26.24h-30.3zM1197.78 264.86l15.15 26.24h-30.3zM1197.78 270.88l15.15 26.24h-30.3zM1203.8 174.48l15.15 26.24h-30.3zM1203.8 180.5l15.15 26.24h-30.3zM1203.8 222.68l15.15 26.24h-30.3zM1203.8 234.73l15.15 26.24h-30.3zM1203.8 258.83l15.15 26.24h-30.3zM1203.8 264.86l15.15 26.24h-30.3zM1203.8 270.88l15.15 26.24h-30.3zM1203.8 282.93l15.15 26.24h-30.3zM1203.8 343.18l15.15 26.24h-30.3zM1203.8 349.21l15.15 26.24h-30.3zM1203.8 837.23l15.15 26.24h-30.3zM1203.8 849.28l15.15 26.24h-30.3zM1203.8 855.31l15.15 26.24h-30.3zM1203.8 867.36l15.15 26.24h-30.3zM1203.8 873.38l15.15 26.24h-30.3zM1203.8 891.46l15.15 26.24h-30.3zM1203.8 897.48l15.15 26.24h-30.3zM1203.8 915.56l15.15 26.24h-30.3zM1209.83 831.21l15.15 26.24h-30.3zM1209.83 849.28l15.15 26.24h-30.3zM1209.83 867.36l15.15 26.24h-30.3zM1209.83 873.38l15.15 26.24h-30.3zM1209.83 891.46l15.15 26.24h-30.3zM1209.83 897.48l15.15 26.24h-30.3zM1209.83 915.56l15.15 26.24h-30.3zM1209.83 921.58l15.15 26.24h-30.3zM1221.88 222.68l15.15 26.24h-30.3zM1221.88 264.86l15.15 26.24h-30.3zM1221.88 270.88l15.15 26.24h-30.3zM1221.88 282.93l15.15 26.24h-30.3zM1221.88 343.18l15.15 26.24h-30.3zM1221.88 349.21l15.15 26.24h-30.3zM1227.9 337.16l15.15 26.24h-30.3zM1227.9 343.18l15.15 26.24h-30.3zM1227.9 349.21l15.15 26.24h-30.3zM1227.9 897.48l15.15 26.24h-30.3zM1227.9 915.56l15.15 26.24h-30.3zM1227.9 921.58l15.15 26.24h-30.3zM1233.92 831.21l15.15 26.24h-30.3zM1233.92 897.48l15.15 26.24h-30.3zM1233.92 915.56l15.15 26.24h-30.3zM1233.92 921.58l15.15 26.24h-30.3zM1233.92 939.66l15.15 26.24h-30.3zM1239.95 264.86l15.15 26.24h-30.3zM1245.98 270.88l15.15 26.24h-30.3zM1245.98 337.16l15.15 26.24h-30.3zM1245.98 343.18l15.15 26.24h-30.3zM1245.98 349.21l15.15 26.24h-30.3zM1252 343.18l15.15 26.24h-30.3zM1252 349.21l15.15 26.24h-30.3zM1252 915.56l15.15 26.24h-30.3zM1252 921.58l15.15 26.24h-30.3zM1252 939.66l15.15 26.24h-30.3zM1252 945.68l15.15 26.24h-30.3zM1252 963.75l15.15 26.24h-30.3zM1258.03 921.58l15.15 26.24h-30.3zM1258.03 939.66l15.15 26.24h-30.3zM1258.03 945.68l15.15 26.24h-30.3zM1258.03 963.75l15.15 26.24h-30.3zM1258.03 999.91l15.15 26.24h-30.3zM1258.03 1005.93l15.15 26.24h-30.3zM1264.05 1011.96l15.15 26.24h-30.3zM1270.08 343.18l15.15 26.24h-30.3zM1270.08 349.21l15.15 26.24h-30.3zM1270.08 969.78l15.15 26.24h-30.3zM1276.1 337.16l15.15 26.24h-30.3zM1276.1 343.18l15.15 26.24h-30.3zM1276.1 349.21l15.15 26.24h-30.3zM1282.12 331.13l15.15 26.24h-30.3zM1282.12 337.16l15.15 26.24h-30.3zM1282.12 343.18l15.15 26.24h-30.3zM1282.12 349.21l15.15 26.24h-30.3zM1282.12 921.58l15.15 26.24h-30.3zM1282.12 939.66l15.15 26.24h-30.3zM1282.12 945.68l15.15 26.24h-30.3zM1282.12 963.75l15.15 26.24h-30.3zM1282.12 969.78l15.15 26.24h-30.3zM1288.15 325.11l15.15 26.24h-30.3zM1288.15 331.13l15.15 26.24h-30.3zM1288.15 337.16l15.15 26.24h-30.3zM1288.15 343.18l15.15 26.24h-30.3zM1288.15 349.21l15.15 26.24h-30.3zM1288.15 355.23l15.15 26.24h-30.3zM1288.15 969.78l15.15 26.24h-30.3zM1294.17 319.08l15.15 26.24h-30.3zM1294.17 325.11l15.15 26.24h-30.3zM1294.17 331.13l15.15 26.24h-30.3zM1294.17 337.16l15.15 26.24h-30.3zM1294.17 343.18l15.15 26.24h-30.3zM1294.17 349.21l15.15 26.24h-30.3zM1300.2 319.08l15.15 26.24h-30.3zM1300.2 325.11l15.15 26.24h-30.3zM1300.2 331.13l15.15 26.24h-30.3zM1300.2 337.16l15.15 26.24h-30.3zM1300.2 343.18l15.15 26.24h-30.3zM1306.23 331.13l15.15 26.24h-30.3zM1306.23 337.16l15.15 26.24h-30.3zM1306.23 343.18l15.15 26.24h-30.3zM1306.23 921.58l15.15 26.24h-30.3zM1306.23 939.66l15.15 26.24h-30.3zM1306.23 945.68l15.15 26.24h-30.3zM1306.23 963.75l15.15 26.24h-30.3zM1306.23 969.78l15.15 26.24h-30.3zM1312.25 602.25l15.15 26.24h-30.3zM1312.25 614.31l15.15 26.24h-30.3zM1312.25 945.68l15.15 26.24h-30.3zM1312.25 963.75l15.15 26.24h-30.3zM1312.25 969.78l15.15 26.24h-30.3zM1330.33 614.31l15.15 26.24h-30.3zM1330.33 620.33l15.15 26.24h-30.3zM1330.33 638.41l15.15 26.24h-30.3zM1330.33 656.48l15.15 26.24h-30.3zM1330.33 927.61l15.15 26.24h-30.3zM1330.33 945.68l15.15 26.24h-30.3zM1330.33 951.71l15.15 26.24h-30.3zM1330.33 963.75l15.15 26.24h-30.3zM1330.33 969.78l15.15 26.24h-30.3zM1336.35 614.31l15.15 26.24h-30.3zM1336.35 620.33l15.15 26.24h-30.3zM1336.35 632.38l15.15 26.24h-30.3zM1336.35 656.48l15.15 26.24h-30.3zM1336.35 969.78l15.15 26.24h-30.3zM1342.38 656.48l15.15 26.24h-30.3zM1348.4 674.56l15.15 26.24h-30.3zM1354.43 656.48l15.15 26.24h-30.3zM1354.43 674.56l15.15 26.24h-30.3zM1354.43 692.63l15.15 26.24h-30.3zM1360.45 656.48l15.15 26.24h-30.3zM1360.45 674.56l15.15 26.24h-30.3zM1360.45 680.58l15.15 26.24h-30.3zM1360.45 698.66l15.15 26.24h-30.3zM1384.55 698.66l15.15 26.24h-30.3zM1396.6 325.11l15.15 26.24h-30.3zM1402.62 325.11l15.15 26.24h-30.3zM1402.62 903.5l15.15 26.24h-30.3zM1414.68 861.33l15.15 26.24h-30.3zM1414.68 867.36l15.15 26.24h-30.3zM1414.68 879.41l15.15 26.24h-30.3zM1414.68 885.43l15.15 26.24h-30.3zM1414.68 903.5l15.15 26.24h-30.3zM1414.68 909.53l15.15 26.24h-30.3zM1420.7 337.16l15.15 26.24h-30.3zM1420.7 861.33l15.15 26.24h-30.3zM1420.7 867.36l15.15 26.24h-30.3zM1420.7 879.41l15.15 26.24h-30.3zM1420.7 885.43l15.15 26.24h-30.3zM1420.7 903.5l15.15 26.24h-30.3zM1420.7 909.53l15.15 26.24h-30.3zM1432.75 680.58l15.15 26.24h-30.3zM1432.75 698.66l15.15 26.24h-30.3zM1432.75 704.68l15.15 26.24h-30.3zM1438.78 849.28l15.15 26.24h-30.3zM1438.78 879.41l15.15 26.24h-30.3zM1438.78 885.43l15.15 26.24h-30.3zM1438.78 903.5l15.15 26.24h-30.3zM1438.78 909.53l15.15 26.24h-30.3zM1438.78 927.61l15.15 26.24h-30.3zM1444.8 879.41l15.15 26.24h-30.3zM1444.8 885.43l15.15 26.24h-30.3zM1444.8 903.5l15.15 26.24h-30.3zM1444.8 909.53l15.15 26.24h-30.3zM1444.8 927.61l15.15 26.24h-30.3zM1450.83 656.48l15.15 26.24h-30.3zM1450.83 674.56l15.15 26.24h-30.3zM1450.83 680.58l15.15 26.24h-30.3zM1450.83 698.66l15.15 26.24h-30.3zM1450.83 1198.73l15.15 26.24h-30.3zM1456.85 680.58l15.15 26.24h-30.3zM1456.85 698.66l15.15 26.24h-30.3zM1456.85 704.68l15.15 26.24h-30.3zM1456.85 710.71l15.15 26.24h-30.3zM1456.85 728.78l15.15 26.24h-30.3zM1456.85 734.81l15.15 26.24h-30.3zM1456.85 752.88l15.15 26.24h-30.3zM1456.85 885.43l15.15 26.24h-30.3zM1456.85 903.5l15.15 26.24h-30.3zM1456.85 909.53l15.15 26.24h-30.3zM1456.85 927.61l15.15 26.24h-30.3zM1456.85 933.63l15.15 26.24h-30.3zM1456.85 945.68l15.15 26.24h-30.3zM1456.85 951.71l15.15 26.24h-30.3zM1462.88 752.88l15.15 26.24h-30.3zM1462.88 903.5l15.15 26.24h-30.3zM1462.88 909.53l15.15 26.24h-30.3zM1462.88 927.61l15.15 26.24h-30.3zM1462.88 933.63l15.15 26.24h-30.3zM1462.88 945.68l15.15 26.24h-30.3zM1462.88 951.71l15.15 26.24h-30.3zM1468.9 638.41l15.15 26.24h-30.3zM1468.9 656.48l15.15 26.24h-30.3zM1468.9 662.5l15.15 26.24h-30.3zM1468.9 674.56l15.15 26.24h-30.3zM1468.9 680.58l15.15 26.24h-30.3zM1468.9 909.53l15.15 26.24h-30.3zM1468.9 927.61l15.15 26.24h-30.3zM1468.9 933.63l15.15 26.24h-30.3zM1468.9 945.68l15.15 26.24h-30.3zM1468.9 951.71l15.15 26.24h-30.3zM1468.9 969.78l15.15 26.24h-30.3zM1468.9 1198.73l15.15 26.24h-30.3zM1468.9 1216.81l15.15 26.24h-30.3zM1474.93 638.41l15.15 26.24h-30.3zM1474.93 656.48l15.15 26.24h-30.3zM1474.93 662.5l15.15 26.24h-30.3zM1474.93 674.56l15.15 26.24h-30.3zM1474.93 680.58l15.15 26.24h-30.3zM1474.93 686.61l15.15 26.24h-30.3zM1474.93 704.68l15.15 26.24h-30.3zM1480.95 704.68l15.15 26.24h-30.3zM1480.95 728.78l15.15 26.24h-30.3zM1480.95 734.81l15.15 26.24h-30.3zM1480.95 752.88l15.15 26.24h-30.3zM1480.95 758.91l15.15 26.24h-30.3zM1480.95 776.98l15.15 26.24h-30.3zM1480.95 909.53l15.15 26.24h-30.3zM1480.95 927.61l15.15 26.24h-30.3zM1480.95 933.63l15.15 26.24h-30.3zM1480.95 945.68l15.15 26.24h-30.3zM1480.95 951.71l15.15 26.24h-30.3zM1480.95 969.78l15.15 26.24h-30.3zM1480.95 975.81l15.15 26.24h-30.3zM1486.98 927.61l15.15 26.24h-30.3zM1486.98 933.63l15.15 26.24h-30.3zM1486.98 945.68l15.15 26.24h-30.3zM1486.98 951.71l15.15 26.24h-30.3zM1486.98 969.78l15.15 26.24h-30.3zM1486.98 975.81l15.15 26.24h-30.3zM1493 632.38l15.15 26.24h-30.3zM1493 638.41l15.15 26.24h-30.3zM1493 656.48l15.15 26.24h-30.3zM1493 662.5l15.15 26.24h-30.3zM1493 680.58l15.15 26.24h-30.3zM1493 933.63l15.15 26.24h-30.3zM1493 945.68l15.15 26.24h-30.3zM1493 951.71l15.15 26.24h-30.3zM1493 969.78l15.15 26.24h-30.3zM1493 975.81l15.15 26.24h-30.3zM1499.03 638.41l15.15 26.24h-30.3zM1499.03 662.5l15.15 26.24h-30.3zM1505.05 752.88l15.15 26.24h-30.3zM1505.05 758.91l15.15 26.24h-30.3zM1505.05 776.98l15.15 26.24h-30.3zM1505.05 933.63l15.15 26.24h-30.3zM1505.05 945.68l15.15 26.24h-30.3zM1505.05 951.71l15.15 26.24h-30.3zM1505.05 969.78l15.15 26.24h-30.3zM1505.05 975.81l15.15 26.24h-30.3zM1505.05 981.83l15.15 26.24h-30.3zM1511.08 638.41l15.15 26.24h-30.3zM1511.08 951.71l15.15 26.24h-30.3zM1511.08 969.78l15.15 26.24h-30.3zM1511.08 975.81l15.15 26.24h-30.3zM1511.08 981.83l15.15 26.24h-30.3zM1511.08 987.86l15.15 26.24h-30.3zM1517.1 638.41l15.15 26.24h-30.3zM1517.1 969.78l15.15 26.24h-30.3zM1517.1 975.81l15.15 26.24h-30.3z" fill="none" stroke="#f00" stroke-width="3.125" stroke-linejoin="round"/>
<rect x="120" y="30" width="1450" height="1450" fill="none" stroke="#000" stroke-width="3.125"/>
<path d="M120 77.5V1282.5M167.5 1480H1372.5" fill="none" stroke="#000" stroke-width="3.6"/>
<path d="M167.5 1480v30M120 77.5h-30M468.75 1480v30M120 378.75h-30M770 1480v30M120 680h-30M1071.25 1480v30M120 981.25h-30M1372.5 1480v30M120 1282.5h-30" fill="none" stroke="#000" stroke-width="3.125" stroke-linecap="round"/>
<text transform="translate(167.5 1589.6) scale(1.000 1.057)" text-anchor="middle">0</text><text transform="translate(49.9 78.2) rotate(-90) scale(1.000 1.057)" text-anchor="middle">0</text><text transform="translate(468.75 1589.6) scale(1.000 1.057)" text-anchor="middle">50</text><text transform="translate(49.9 379.45) rotate(-90) scale(1.000 1.057)" text-anchor="middle">50</text><text transform="translate(770 1589.6) scale(1.000 1.057)" text-anchor="middle">100</text><text transform="translate(49.9 680.7) rotate(-90) scale(1.000 1.057)" text-anchor="middle">100</text><text transform="translate(1071.25 1589.6) scale(1.000 1.057)" text-anchor="middle">150</text><text transform="translate(49.9 981.95) rotate(-90) scale(1.000 1.057)" text-anchor="middle">150</text><text transform="translate(1372.5 1589.6) scale(1.000 1.057)" text-anchor="middle">200</text><text transform="translate(49.9 1283.2) rotate(-90) scale(1.000 1.057)" text-anchor="middle">200</text>
<path d="M1203.3 72l15.15 26.24h-30.3z" fill="none" stroke="#f00" stroke-width="3.125" stroke-linejoin="round"/><path d="M1192.05 138.75h22.5v22.5h-22.5z" fill="none" stroke="#00f" stroke-width="3.125" stroke-linejoin="round"/><text transform="translate(1246.7 107.7) scale(1.009 1.057)" text-anchor="start">DNCON2-RR</text><text transform="translate(1247.8 168) scale(1.010 1.057)" text-anchor="start">Model-RR</text>
<text transform="translate(199 1451.3) scale(1.015 1.057)" text-anchor="start" style="font-size:100px">Top-2L</text>
</svg>
</body></html>
